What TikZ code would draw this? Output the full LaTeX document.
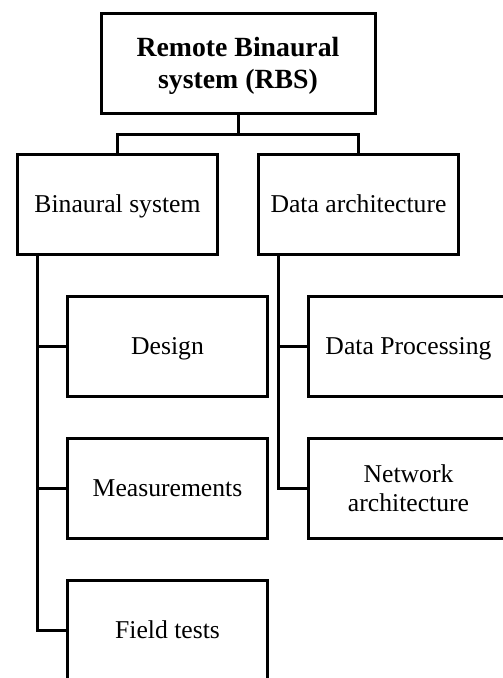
\documentclass[tikz,border=0pt]{standalone}
\usepackage{fontspec}
\setmainfont{Liberation Serif}
\usetikzlibrary{positioning, calc}

\begin{document}
\begin{tikzpicture}[
        rootbox/.style={
            draw,
            line width=0.06cm,
            outer sep=0pt,
            minimum width=5.48cm,
            minimum height=2cm,
            align=center,
            text depth=0pt,
            font=\fontsize{15.8}{18.3}\selectfont\bfseries
        },
        topicbox/.style={
            draw,
            line width=0.06cm,
            outer sep=0pt,
            minimum width=4cm,
            minimum height=2cm,
            align=center,
            text height=10.5pt,
            text depth=1.4pt,
            font=\fontsize{14.6}{16.5}\selectfont
        },
        itembox/.style={
            topicbox
        },
        twolines/.style={
            text height=,
            text depth=0pt
        },
        link/.style={
            line width=0.06cm
        },
        node distance=0.84cm
    ]

        \useasboundingbox (0,0) rectangle (10.04,-13.56);

        % ---------------------------------------------------------------------
        % Root and the two main parts
        % ---------------------------------------------------------------------

        \node[rootbox] (rbs) at (4.76,-1.26) {
            Remote Binaural\\
            system (RBS)
        };

        \node[
            topicbox,
            below=0.82cm of rbs,
            xshift=-2.41cm
        ] (binaural) {Binaural system};

        \node[
            topicbox,
            right=0.82cm of binaural
        ] (dataarch) {Data architecture};

        % ---------------------------------------------------------------------
        % Items of each part
        % ---------------------------------------------------------------------

        \node[
            itembox,
            below=of binaural,
            xshift=1cm
        ] (design) {Design};

        \node[
            itembox,
            below=of design
        ] (measure) {Measurements};

        \node[
            itembox,
            below=of measure
        ] (fieldtest) {Field tests};

        \node[
            itembox,
            below=of dataarch,
            xshift=1cm
        ] (dataproc) {Data Processing};

        \node[
            itembox,
            twolines,
            below=of dataproc
        ] (network) {
            Network\\
            architecture
        };

        % ---------------------------------------------------------------------
        % Connectors
        % ---------------------------------------------------------------------

        \draw[link] (rbs.south) -- ++(0,-0.42) coordinate (fork);
        \draw[link] (binaural.north) |- (fork) -| (dataarch.north);

        \coordinate (ltrunk) at ([xshift=0.4cm]binaural.south west);
        \coordinate (rtrunk) at ([xshift=0.4cm]dataarch.south west);

        \draw[link] (ltrunk) |- (fieldtest.west);
        \draw[link] (design.west) -- (design.west -| ltrunk);
        \draw[link] (measure.west) -- (measure.west -| ltrunk);

        \draw[link] (rtrunk) |- (network.west);
        \draw[link] (dataproc.west) -- (dataproc.west -| rtrunk);

    \end{tikzpicture}
\end{document}
